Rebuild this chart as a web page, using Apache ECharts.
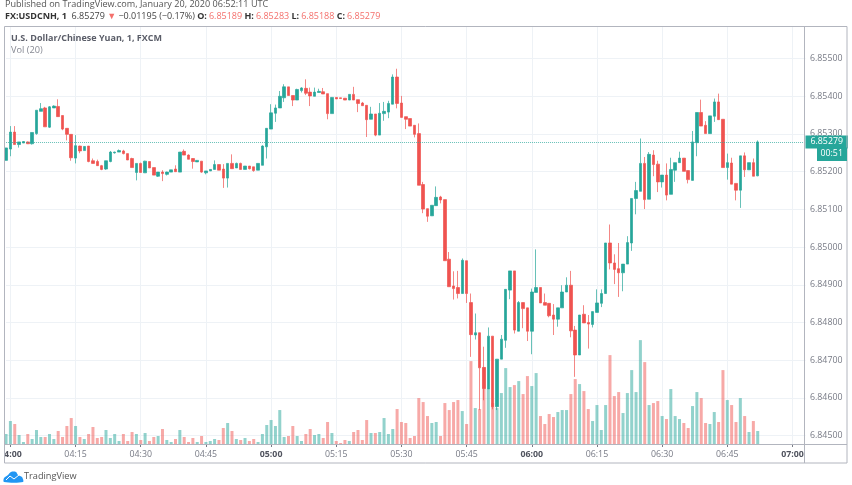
<!DOCTYPE html>
<html>
<head>
<meta charset="utf-8">
<title>USDCNH 1m</title>
<script src="https://cdn.jsdelivr.net/npm/echarts@6/dist/echarts.min.js"></script>
<style>
  html, body { margin: 0; padding: 0; background: #fff; }
  /* the source picture is a scaled screenshot, so it is a touch soft */
  #chart { width: 852px; height: 485px; filter: blur(0.3px); }
</style>
</head>
<body>
<div id="chart"></div>
<script>
// one candle per minute, first one is 03:59
const opens = [
  6.85230,6.85260,6.85305,6.85272,6.85276,6.85279,6.85274,6.85301,6.85360,6.85369,
  6.85318,6.85369,6.85373,6.85349,6.85315,6.85299,6.85236,6.85268,6.85256,6.85268,
  6.85229,6.85227,6.85216,6.85207,6.85227,6.85250,6.85252,6.85255,6.85248,6.85235,
  6.85198,6.85222,6.85197,6.85227,6.85211,6.85188,6.85199,6.85193,6.85199,6.85207,
  6.85199,6.85254,6.85244,6.85235,6.85226,6.85228,6.85197,6.85202,6.85206,6.85219,
  6.85207,6.85183,6.85222,6.85210,6.85222,6.85206,6.85215,6.85213,6.85204,6.85217,
  6.85266,6.85313,6.85355,6.85369,6.85396,6.85425,6.85402,6.85390,6.85415,6.85421,
  6.85411,6.85400,6.85410,6.85412,6.85407,6.85354,6.85397,6.85396,6.85395,6.85390,
  6.85405,6.85391,6.85382,6.85376,6.85339,6.85353,6.85297,6.85354,6.85358,6.85379,
  6.85451,6.85382,6.85346,6.85341,6.85323,6.85301,6.85166,6.85102,6.85083,6.85110,
  6.85133,6.85126,6.84968,6.84897,6.84893,6.84877,6.84964,6.84853,6.84767,6.84773,
  6.84681,6.84624,6.84764,6.84577,6.84703,6.84753,6.84886,6.84937,6.84777,6.84853,
  6.84839,6.84777,6.84880,6.84893,6.84853,6.84851,6.84820,6.84809,6.84839,6.84881,
  6.84899,6.84780,6.84714,6.84822,6.84800,6.84795,6.84827,6.84851,6.84877,6.85011,
  6.84958,6.84943,6.84932,6.84955,6.85011,6.85129,6.85148,6.85222,6.85127,6.85244,
  6.85220,6.85173,6.85191,6.85140,6.85204,6.85224,6.85236,6.85203,6.85177,6.85277,
  6.85357,6.85323,6.85301,6.85347,6.85385,6.85339,6.85211,6.85223,6.85169,6.85151,
  6.85242,6.85205,6.85224,6.85189
];
const closes = [
  6.85263,6.85305,6.85272,6.85279,6.85280,6.85274,6.85304,6.85363,6.85367,6.85319,
  6.85372,6.85374,6.85346,6.85313,6.85299,6.85237,6.85269,6.85255,6.85267,6.85227,
  6.85222,6.85216,6.85206,6.85229,6.85252,6.85252,6.85256,6.85248,6.85231,6.85211,
  6.85222,6.85198,6.85228,6.85210,6.85191,6.85199,6.85195,6.85199,6.85205,6.85200,
  6.85252,6.85244,6.85233,6.85227,6.85230,6.85199,6.85202,6.85206,6.85219,6.85204,
  6.85183,6.85222,6.85208,6.85222,6.85206,6.85215,6.85208,6.85203,6.85222,6.85268,
  6.85315,6.85356,6.85369,6.85400,6.85425,6.85402,6.85390,6.85418,6.85422,6.85408,
  6.85401,6.85411,6.85413,6.85406,6.85354,6.85397,6.85393,6.85394,6.85390,6.85405,
  6.85390,6.85381,6.85375,6.85338,6.85353,6.85297,6.85355,6.85360,6.85381,6.85451,
  6.85381,6.85344,6.85339,6.85321,6.85299,6.85164,6.85101,6.85082,6.85111,6.85132,
  6.85125,6.84964,6.84895,6.84890,6.84877,6.84965,6.84877,6.84768,6.84773,6.84680,
  6.84625,6.84764,6.84577,6.84703,6.84756,6.84888,6.84937,6.84780,6.84853,6.84837,
  6.84777,6.84881,6.84893,6.84852,6.84846,6.84818,6.84809,6.84839,6.84881,6.84899,
  6.84778,6.84714,6.84820,6.84799,6.84796,6.84829,6.84852,6.84877,6.85011,6.84958,
  6.84941,6.84932,6.84955,6.85012,6.85129,6.85150,6.85222,6.85126,6.85246,6.85219,
  6.85173,6.85191,6.85138,6.85206,6.85224,6.85236,6.85201,6.85179,6.85279,6.85357,
  6.85321,6.85301,6.85348,6.85385,6.85338,6.85211,6.85224,6.85167,6.85151,6.85242,
  6.85205,6.85224,6.85188,6.85279
];
const lows = [
  6.85230,6.85241,6.85272,6.85264,6.85276,6.85274,6.85272,6.85298,6.85360,6.85319,
  6.85316,6.85369,6.85346,6.85310,6.85283,6.85229,6.85222,6.85249,6.85256,6.85225,
  6.85222,6.85216,6.85204,6.85205,6.85225,6.85248,6.85252,6.85246,6.85231,6.85211,
  6.85177,6.85198,6.85197,6.85210,6.85191,6.85186,6.85175,6.85190,6.85199,6.85200,
  6.85199,6.85244,6.85233,6.85208,6.85226,6.85197,6.85193,6.85202,6.85206,6.85204,
  6.85157,6.85158,6.85208,6.85210,6.85206,6.85206,6.85206,6.85200,6.85204,6.85217,
  6.85235,6.85313,6.85332,6.85369,6.85385,6.85402,6.85374,6.85390,6.85410,6.85403,
  6.85374,6.85400,6.85410,6.85406,6.85339,6.85354,6.85393,6.85394,6.85390,6.85390,
  6.85390,6.85358,6.85375,6.85292,6.85339,6.85294,6.85297,6.85335,6.85342,6.85379,
  6.85368,6.85344,6.85313,6.85321,6.85291,6.85164,6.85090,6.85067,6.85083,6.85110,
  6.85116,6.84964,6.84895,6.84861,6.84864,6.84877,6.84852,6.84709,6.84755,6.84568,
  6.84594,6.84624,6.84570,6.84568,6.84703,6.84733,6.84862,6.84771,6.84777,6.84785,
  6.84751,6.84716,6.84880,6.84852,6.84846,6.84814,6.84767,6.84789,6.84839,6.84881,
  6.84761,6.84656,6.84714,6.84799,6.84731,6.84787,6.84827,6.84841,6.84877,6.84941,
  6.84902,6.84868,6.84883,6.84955,6.84990,6.85087,6.85148,6.85101,6.85127,6.85188,
  6.85146,6.85158,6.85124,6.85140,6.85173,6.85224,6.85201,6.85169,6.85177,6.85241,
  6.85321,6.85301,6.85301,6.85332,6.85338,6.85211,6.85179,6.85167,6.85124,6.85104,
  6.85186,6.85205,6.85188,6.85188
];
const highs = [
  6.85263,6.85321,6.85321,6.85279,6.85281,6.85280,6.85304,6.85363,6.85382,6.85372,
  6.85374,6.85376,6.85392,6.85349,6.85315,6.85299,6.85297,6.85269,6.85268,6.85268,
  6.85235,6.85232,6.85218,6.85229,6.85255,6.85253,6.85259,6.85258,6.85248,6.85237,
  6.85222,6.85224,6.85229,6.85227,6.85211,6.85199,6.85204,6.85200,6.85205,6.85217,
  6.85252,6.85259,6.85246,6.85236,6.85231,6.85228,6.85202,6.85206,6.85230,6.85219,
  6.85220,6.85222,6.85246,6.85224,6.85224,6.85215,6.85215,6.85213,6.85222,6.85270,
  6.85315,6.85379,6.85378,6.85414,6.85432,6.85425,6.85402,6.85420,6.85424,6.85445,
  6.85423,6.85423,6.85420,6.85422,6.85407,6.85398,6.85398,6.85396,6.85395,6.85405,
  6.85425,6.85391,6.85385,6.85376,6.85372,6.85353,6.85382,6.85385,6.85388,6.85458,
  6.85473,6.85401,6.85346,6.85341,6.85323,6.85328,6.85173,6.85102,6.85111,6.85161,
  6.85136,6.85126,6.84987,6.84936,6.84937,6.84970,6.84964,6.84877,6.84824,6.84773,
  6.84736,6.84787,6.84764,6.84703,6.84767,6.84888,6.84937,6.84937,6.84857,6.84853,
  6.84839,6.84890,6.84994,6.84893,6.84877,6.84851,6.84849,6.84839,6.84899,6.84920,
  6.84937,6.84791,6.84820,6.84846,6.84820,6.84829,6.84888,6.84888,6.85011,6.85060,
  6.84981,6.85011,6.84955,6.85029,6.85129,6.85173,6.85288,6.85239,6.85252,6.85257,
  6.85229,6.85191,6.85222,6.85237,6.85224,6.85253,6.85236,6.85203,6.85308,6.85357,
  6.85391,6.85334,6.85348,6.85394,6.85407,6.85339,6.85248,6.85237,6.85169,6.85242,
  6.85251,6.85224,6.85235,6.85283
];
const volumes = [
  10,23,20,9,2,10,5,14,7,7,
  10,5,13,7,18,26,18,7,5,10,
  17,6,7,14,6,10,3,10,3,12,
  10,4,11,3,7,8,15,4,2,5,
  14,7,2,6,2,8,2,3,5,4,
  16,21,13,5,4,6,3,5,2,10,
  19,24,18,34,7,8,18,8,3,10,
  15,9,10,6,22,11,3,1,4,3,
  12,14,4,24,11,11,12,26,10,15,
  35,22,21,6,8,46,42,28,21,22,
  8,41,34,42,44,33,20,83,36,35,
  77,55,41,36,51,76,57,59,63,50,
  68,58,71,28,20,30,27,32,34,34,
  50,65,60,53,35,23,39,14,39,89,
  48,52,31,51,74,52,104,82,39,41,
  43,28,25,55,28,25,21,16,38,52,
  46,21,20,32,22,74,44,39,22,46,
  28,12,23,13
];
const priceTicks = [6.845,6.846,6.847,6.848,6.849,6.85,6.851,6.852,6.853,6.854,6.855];
const lastPrice = 6.85279;

// time axis runs on past the last candle up to 07:03
const times = [];
for (let m = 3 * 60 + 59; m <= 7 * 60 + 3; m++) {
  times.push(String(Math.floor(m / 60)).padStart(2, '0') + ':' + String(m % 60).padStart(2, '0'));
}
const isQuarter = (i, name) => name.slice(3) % 15 === 0;

const UP = '#26a69a', DOWN = '#ef5350', FRAME = '#b2b5be', GRID = '#eef2f6', FONT = '"Open Sans", sans-serif';

const candles = opens.map((o, i) => [o, closes[i], lows[i], highs[i]]);
const volumeBars = volumes.map((v, i) => ({
  value: v,
  itemStyle: { color: closes[i] >= opens[i] ? 'rgba(38,166,154,0.5)' : 'rgba(239,83,80,0.5)' }
}));

// outerBoundsMode off: the 04:00 label is meant to run past the frame
const gridBox = { left: 6.06, right: 46.5, top: 26.5, bottom: 41, outerBoundsMode: 'none' };

const myChart = echarts.init(document.getElementById('chart'));
myChart.setOption({
  animation: false,
  backgroundColor: '#fff',
  textStyle: { fontFamily: FONT },
  grid: [gridBox, gridBox],
  xAxis: [
    {
      type: 'category', data: times, boundaryGap: false, gridIndex: 0,
      axisLine: { show: false },
      axisTick: { show: true, interval: isQuarter, length: 3, lineStyle: { color: '#787b86' } },
      splitLine: { show: true, interval: isQuarter, lineStyle: { color: GRID, width: 1 } },
      axisLabel: {
        interval: isQuarter, margin: 6, fontSize: 8.8, fontFamily: FONT, color: '#787b86', hideOverlap: false,
        formatter: name => name.slice(3) === '00' ? '{hour|' + name + '}' : name,
        rich: { hour: { fontSize: 8.8, fontWeight: 'bold', color: '#50535e', fontFamily: FONT } }
      }
    },
    {
      type: 'category', data: times, boundaryGap: false, gridIndex: 1,
      axisLine: { show: false }, axisTick: { show: false }, axisLabel: { show: false }, splitLine: { show: false }
    }
  ],
  yAxis: [
    {
      type: 'value', gridIndex: 0, position: 'right', scale: true,
      min: 6.84478, max: 6.85585,
      axisLine: { show: false },
      axisTick: { show: false, customValues: priceTicks },
      splitLine: { show: true, lineStyle: { color: GRID, width: 1 } },
      axisLabel: {
        customValues: priceTicks, margin: 4.5, fontSize: 8.8, fontFamily: FONT, color: '#787b86',
        formatter: v => v.toFixed(5)
      }
    },
    {
      // pane is 418px tall, volume only fills the lower quarter
      type: 'value', gridIndex: 1, min: 0, max: 418,
      axisLine: { show: false }, axisTick: { show: false }, axisLabel: { show: false }, splitLine: { show: false }
    }
  ],
  series: [
    {
      name: 'Vol', type: 'bar', xAxisIndex: 1, yAxisIndex: 1, data: volumeBars, barWidth: 3
    },
    {
      name: 'USDCNH', type: 'candlestick', xAxisIndex: 0, yAxisIndex: 0, data: candles, barWidth: 3, clip: false,
      itemStyle: { color: UP, color0: DOWN, borderColor: UP, borderColor0: DOWN, borderWidth: 0.7 },
      markLine: {
        silent: true, symbol: 'none', precision: 5,
        lineStyle: { color: 'rgba(38,166,154,0.7)', type: 'dotted', width: 1, opacity: 1 },
        label: {
          position: 'end', distance: 0, formatter: lastPrice.toFixed(5), color: '#fff', fontSize: 8.8, fontFamily: FONT,
          backgroundColor: UP, padding: [2, 5, 2, 5], align: 'left'
        },
        data: [{ yAxis: lastPrice }]
      }
    }
  ],
  graphic: [
    { type: 'text', x: 5, y: -0.5, z: 10, style: { text: 'Published on TradingView.com, January 20, 2020 06:52:11 UTC', fontSize: 9.1, fontFamily: FONT, fill: '#555' } },
    {
      type: 'text', x: 5, y: 12, z: 10,
      style: {
        text: '{b|FX:USDCNH, 1}  {n|6.85279} {r|▼} {n|−0.01195 (−0.17%)} {k|O:}{r|6.85189} {k|H:}{r|6.85283} {k|L:}{r|6.85188} {k|C:}{r|6.85279}',
        fontSize: 9, fontFamily: FONT, fill: '#333',
        rich: {
          b: { fontSize: 9, fontWeight: 'bold', fill: '#333', fontFamily: FONT },
          k: { fontSize: 9, fontWeight: 'bold', fill: '#333', fontFamily: FONT, padding: [0, 2, 0, 0] },
          n: { fontSize: 9, fill: '#444', fontFamily: FONT },
          r: { fontSize: 9, fill: '#f4706c', fontFamily: FONT }
        }
      }
    },
    { type: 'text', x: 11, y: 33.5, z: 10, style: { text: 'U.S. Dollar/Chinese Yuan, 1, FXCM', fontSize: 9, fontWeight: 'bold', fontFamily: FONT, fill: '#5a5d68' } },
    { type: 'text', x: 11, y: 45.5, z: 10, style: { text: 'Vol (20)', fontSize: 9.2, fontFamily: FONT, fill: '#868993' } },

    // covers for the time labels the frame cuts off
    { type: 'rect', z: 8, shape: { x: 0, y: 445, width: 4.5, height: 18 }, style: { fill: '#fff' } },
    { type: 'rect', z: 8, shape: { x: 804, y: 445, width: 43, height: 18 }, style: { fill: '#fff' } },

    // frame
    { type: 'rect', z: 9, shape: { x: 4.5, y: 26.5, width: 842.5, height: 436.5 }, style: { fill: 'none', stroke: FRAME, lineWidth: 1 } },
    { type: 'line', z: 9, shape: { x1: 804.5, y1: 26.5, x2: 804.5, y2: 463 }, style: { stroke: FRAME, lineWidth: 1 } },
    { type: 'line', z: 9, shape: { x1: 4.5, y1: 444.5, x2: 847, y2: 444.5 }, style: { stroke: FRAME, lineWidth: 1 } },

    // countdown tag under the last price
    { type: 'rect', z: 9, shape: { x: 817, y: 147.5, width: 30, height: 13.5 }, style: { fill: UP } },
    { type: 'text', z: 10, x: 820.5, y: 149, style: { text: '00:51', fontSize: 8.8, fontFamily: FONT, fill: '#fff' } },

    // logo and name at the foot
    { type: 'polygon', z: 10, shape: { points: [[4, 482], [4, 478], [8, 475], [11, 472], [16, 472], [18, 475], [22, 477], [23, 482]], smooth: 0.3 }, style: { fill: '#2196f3' } },
    { type: 'polyline', z: 11, shape: { points: [[6, 480], [10, 476], [14, 479], [19, 475]] }, style: { stroke: '#fff', lineWidth: 1, fill: 'none' } },
    { type: 'text', z: 10, x: 24, y: 472, style: { text: 'TradingView', fontSize: 9.2, fontFamily: FONT, fill: '#555' } }
  ]
});
</script>
</body>
</html>
